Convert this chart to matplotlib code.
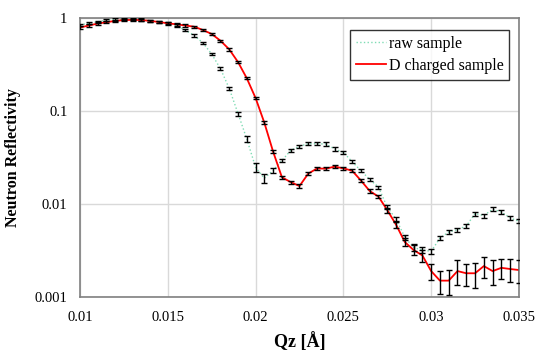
import numpy as np
import matplotlib
matplotlib.use("Agg")
import matplotlib.pyplot as plt
from matplotlib.ticker import FuncFormatter

plt.rcParams['font.family'] = ['Liberation Serif', 'DejaVu Serif']

# Qz values [1/A]
qz = [0.0100, 0.0105, 0.0110, 0.0115, 0.0120, 0.0125, 0.0130, 0.0135, 0.0140, 0.0145,
      0.0150, 0.0155, 0.0160, 0.0165, 0.0170, 0.0175, 0.0180, 0.0185, 0.0190, 0.0195,
      0.0200, 0.0205, 0.0210, 0.0215, 0.0220, 0.0225, 0.0230, 0.0235, 0.0240, 0.0245,
      0.0250, 0.0255, 0.0260, 0.0265, 0.0270, 0.0275, 0.0280, 0.0285, 0.0290, 0.0295,
      0.0300, 0.0305, 0.0310, 0.0315, 0.0320, 0.0325, 0.0330, 0.0335, 0.0340, 0.0345,
      0.0350]

raw = [0.84, 0.88, 0.91, 0.95, 0.96, 0.97, 0.97, 0.96, 0.935, 0.91,
       0.88, 0.83, 0.74, 0.65, 0.54, 0.41, 0.285, 0.175, 0.094, 0.050,
       0.0248, 0.0189, 0.0230, 0.0293, 0.0377, 0.0418, 0.0444, 0.0444, 0.0442, 0.039,
       0.036, 0.0285, 0.0228, 0.0184, 0.0152, 0.0092, 0.0069, 0.0044, 0.0034, 0.0032,
       0.0031, 0.0043, 0.0050, 0.0053, 0.0058, 0.0079, 0.0075, 0.0088, 0.0082, 0.0071,
       0.0065]

charged = [0.79, 0.83, 0.87, 0.90, 0.93, 0.95, 0.955, 0.95, 0.93, 0.905,
           0.877, 0.855, 0.83, 0.806, 0.743, 0.673, 0.57, 0.46, 0.336, 0.225,
           0.138, 0.0748, 0.0365, 0.0194, 0.0172, 0.0156, 0.0212, 0.0241, 0.0240, 0.0252,
           0.0242, 0.0228, 0.0179, 0.0138, 0.0120, 0.0086, 0.0060, 0.0039, 0.0032, 0.0028,
           0.0019, 0.0015, 0.0015, 0.0019, 0.0018, 0.0018, 0.00215, 0.0019, 0.00206, 0.0020,
           0.00195]

# relative error bars
raw_rel = [0.03] * 16 + [0.04, 0.04, 0.05, 0.07, 0.12, 0.11, 0.06] + [0.04] * 12 + \
          [0.05, 0.05, 0.06, 0.08, 0.08, 0.07] + [0.05] * 10
charged_rel = [0.03] * 21 + [0.04] * 14 + \
              [0.06, 0.07, 0.10, 0.12, 0.14, 0.20, 0.28, 0.30, 0.30, 0.27,
               0.30, 0.25, 0.30, 0.25, 0.27, 0.27]

raw = np.array(raw)
charged = np.array(charged)

fig = plt.figure(figsize=(5.35, 3.5), dpi=100)
ax = fig.add_axes([0.1495, 0.1514, 0.8205, 0.7972])

ax.plot(qz, raw, color='#7fdcb4', linestyle=':', linewidth=1.0, label='raw sample', zorder=2)
ax.plot(qz, charged, color='#ff0000', linewidth=1.3, label='D charged sample', zorder=2)
ax.errorbar(qz, raw, yerr=raw * np.array(raw_rel), fmt='none', ecolor='black',
            elinewidth=1.0, capsize=2, capthick=1.0, zorder=3)
ax.errorbar(qz, charged, yerr=charged * np.array(charged_rel), fmt='none', ecolor='black',
            elinewidth=1.0, capsize=2, capthick=1.0, zorder=3)

ax.set_yscale('log')
ax.set_xlim(0.01, 0.035)
ax.set_ylim(0.001, 1)
ax.set_xticks([0.01, 0.015, 0.02, 0.025, 0.03, 0.035])
ax.set_yticks([0.001, 0.01, 0.1, 1])
ax.yaxis.set_minor_locator(plt.NullLocator())
fmt = FuncFormatter(lambda v, p: '%g' % v)
ax.xaxis.set_major_formatter(fmt)
ax.yaxis.set_major_formatter(fmt)
ax.tick_params(length=0, labelsize=10.5, pad=10)
ax.tick_params(axis='y', pad=9)

ax.grid(True, color='#d9d9d9', linewidth=1.0)
ax.set_axisbelow(True)
for s in ax.spines.values():
    s.set_color('#808080')
    s.set_linewidth(1.2)

ax.set_xlabel('Qz [Å]', fontsize=13, fontweight='bold', labelpad=6)
ax.set_ylabel('Neutron Reflectivity', fontsize=11.5, fontweight='bold', labelpad=10)

leg = ax.legend(loc='upper left', bbox_to_anchor=(0.615, 0.957), fontsize=11.5,
                frameon=True, fancybox=False, handlelength=1.9, borderaxespad=0,
                handletextpad=0.2, labelspacing=0.4, borderpad=0.35)
leg.get_frame().set_edgecolor('black')
leg.get_frame().set_linewidth(1.0)

fig.savefig('out.png', dpi=100)
